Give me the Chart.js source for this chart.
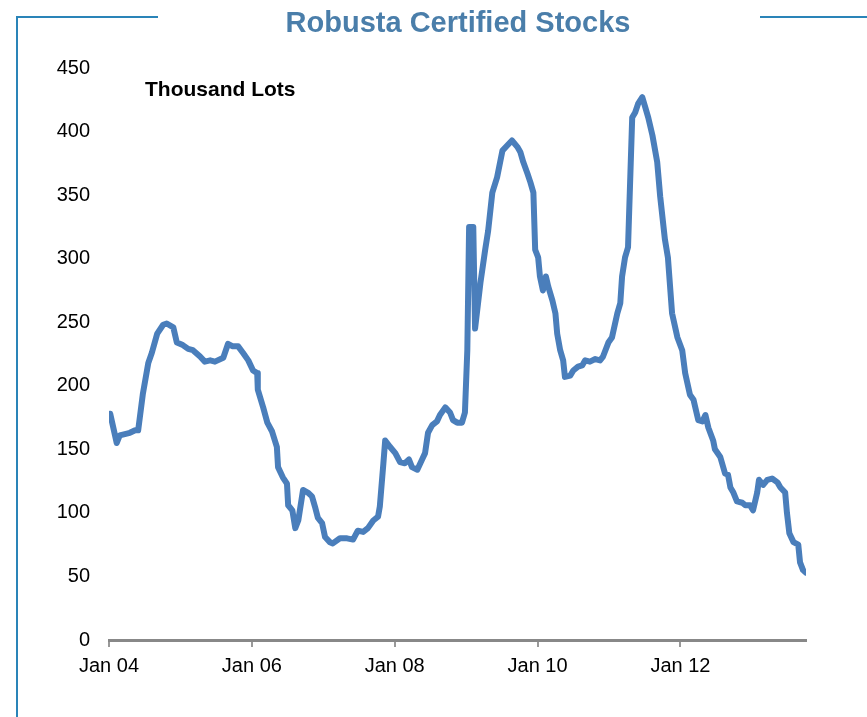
<!DOCTYPE html>
<html lang="en">
<head>
    <meta charset="UTF-8">
    <title>Robusta Certified Stocks</title>
    <style>
        body {
            margin: 0;
            background: #fff;
            font-family: "Liberation Sans", Arial, sans-serif;
        }
        .wrap {
            position: relative;
            width: 867px;
            height: 717px;
            overflow: hidden;
        }
        .frame-left {
            position: absolute;
            left: 16px;
            top: 16px;
            width: 2px;
            height: 701px;
            background: #2a84b8;
        }
        .frame-top {
            position: absolute;
            top: 16px;
            height: 2px;
            background: #2a84b8;
        }
        .title {
            position: absolute;
            left: 0;
            width: 916px;
            top: 6px;
            text-align: center;
            font-size: 29px;
            font-weight: bold;
            color: #4a7eaa;
        }
        .unit {
            position: absolute;
            left: 145px;
            top: 77px;
            font-size: 21px;
            font-weight: bold;
            color: #000;
        }
        canvas {
            position: absolute;
            left: 0;
            top: 0;
        }
    </style>
    <script src="https://cdn.jsdelivr.net/npm/chart.js"></script>
</head>
<body>
    <div class="wrap">
        <canvas id="stocksChart" width="867" height="717"></canvas>
        <div class="frame-left"></div>
        <div class="frame-top" style="left:16px; width:142px;"></div>
        <div class="frame-top" style="left:760px; width:107px;"></div>
        <div class="title">Robusta Certified Stocks</div>
        <div class="unit">Thousand Lots</div>
    </div>

    <script>
        // months counted from Jan 2004
        const months = [
            0.2, 1.3, 1.8, 3.5, 4.4, 4.9, 5.7, 6.6, 7.2, 8.1, 9.1, 9.7, 10.8, 11.4,
            12.4, 13.3, 14.1, 15.3, 16.1, 17.0, 17.8, 19.2, 20.0, 20.8, 21.7, 22.5, 23.4,
            24.2, 24.9, 25.0, 25.9, 26.6, 27.4, 28.2, 28.4, 29.2, 29.9, 30.1, 30.8, 31.3,
            31.8, 32.6, 33.4, 34.1, 34.6, 35.1, 35.8, 36.3, 37.1, 37.6, 38.8, 40.0, 41.0,
            41.8, 42.7, 43.5, 44.4, 45.2, 45.5, 46.1, 46.4, 47.2, 48.1, 48.9, 49.7, 50.4,
            50.9, 51.8, 52.6, 53.1, 53.6, 54.3, 55.1, 55.6, 56.5, 57.3, 57.8, 58.5, 59.3,
            59.8, 60.2, 60.5, 61.2, 61.5, 62.4, 63.2, 63.7, 64.4, 65.2, 66.1, 66.9, 67.7,
            68.6, 69.1, 69.6, 70.3, 70.8, 71.3, 71.6, 72.1, 72.4, 72.9, 73.4, 73.8, 74.5,
            75.0, 75.3, 75.8, 76.3, 76.6, 77.5, 78.0, 78.8, 79.5, 80.0, 80.8, 81.7, 82.5,
            83.0, 83.9, 84.5, 85.4, 85.9, 86.2, 86.7, 87.2, 87.9, 88.4, 88.9, 89.6, 90.1,
            90.6, 91.3, 92.1, 92.6, 93.4, 93.9, 94.6, 95.5, 96.3, 96.8, 97.6, 98.2, 99.0,
            99.7, 100.2, 100.7, 101.5, 101.8, 102.7, 103.5, 104.0, 104.4, 104.9, 105.5,
            106.4, 106.9, 107.7, 108.2, 108.9, 109.2, 109.9, 110.6, 111.4, 112.3, 112.8,
            113.6, 113.9, 114.3, 115.0, 115.8, 116.1, 116.6, 117.1
        ];
        // certified stocks, thousand lots
        const stocks = [
            178, 155, 161, 163, 165, 165, 194, 218, 226, 241, 248, 249, 246, 234,
            232, 229, 228, 223, 219, 220, 219, 222, 233, 231, 231, 226, 220,
            212, 210, 197, 183, 171, 164, 152, 136, 128, 123, 106, 102, 88,
            94, 118, 116, 113, 105, 96, 92, 81, 77, 76, 80, 80, 79,
            86, 85, 88, 94, 97, 105, 139, 157, 152, 147, 140, 139, 142,
            136, 134, 142, 147, 163, 169, 172, 177, 183, 179, 173, 171, 171,
            179, 228, 325, 325, 245, 281, 307, 322, 352, 364, 385, 389, 393,
            388, 384, 376, 367, 360, 352, 307, 301, 286, 275, 286, 278, 267,
            257, 241, 228, 220, 207, 208, 212, 215, 216, 220, 219, 221, 220,
            223, 234, 238, 257, 265, 286, 301, 309, 411, 415, 422, 427, 419,
            411, 397, 376, 349, 315, 301, 257, 238, 228, 210, 193, 189, 173,
            172, 177, 167, 157, 150, 144, 131, 130, 120, 116, 109,
            108, 106, 106, 102, 116, 126, 122, 126, 127, 124, 120,
            116, 100, 84, 77, 75, 61, 55, 53
        ];
        const tickMonths = [0, 24, 48, 72, 96];
        const tickLabels = ['Jan 04', 'Jan 06', 'Jan 08', 'Jan 10', 'Jan 12'];

        const ctx = document.getElementById('stocksChart').getContext('2d');

        new Chart(ctx, {
            type: 'line',
            data: {
                datasets: [{
                    data: months.map((m, i) => ({ x: m, y: stocks[i] })),
                    borderColor: '#4a7ebb',
                    borderWidth: 6,
                    borderJoinStyle: 'round',
                    borderCapStyle: 'round',
                    pointRadius: 0,
                    tension: 0,
                    fill: false
                }]
            },
            options: {
                responsive: false,
                animation: false,
                layout: {
                    padding: { top: 68, right: 61, left: 0, bottom: 0 }
                },
                plugins: {
                    legend: { display: false },
                    tooltip: { enabled: false }
                },
                scales: {
                    x: {
                        type: 'linear',
                        min: 0,
                        max: 117.1,
                        afterBuildTicks: scale => {
                            scale.ticks = tickMonths.map(v => ({ value: v }));
                        },
                        afterFit: scale => { scale.height = 77; },
                        ticks: {
                            callback: value => tickLabels[tickMonths.indexOf(value)],
                            color: '#000',
                            font: { family: 'Liberation Sans', size: 20 },
                            padding: 7,
                            maxRotation: 0
                        },
                        grid: {
                            display: true,
                            drawOnChartArea: false,
                            drawTicks: true,
                            tickLength: 7,
                            color: '#999',
                            lineWidth: 2
                        },
                        border: { display: true, color: '#888', width: 3 }
                    },
                    y: {
                        min: 0,
                        max: 450,
                        afterFit: scale => { scale.width = 109; },
                        ticks: {
                            stepSize: 50,
                            color: '#000',
                            font: { family: 'Liberation Sans', size: 20 },
                            padding: 11
                        },
                        grid: { display: false },
                        border: { display: false }
                    }
                }
            }
        });
    </script>
</body>
</html>
